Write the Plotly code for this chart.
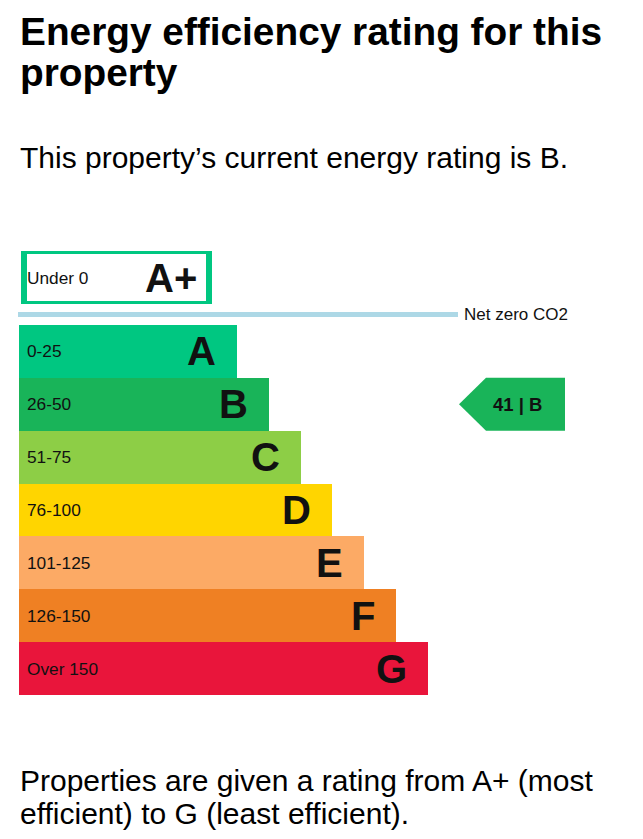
import plotly.graph_objects as go

# ---- data ----
bands = ["A", "B", "C", "D", "E", "F", "G"]
band_ranges = ["0-25", "26-50", "51-75", "76-100", "101-125", "126-150", "Over 150"]
top_band = "A+"
top_range = "Under 0"
current_score = 41
current_band = "B"
net_zero_label = "Net zero CO2"
title_lines = ["Energy efficiency rating for this", "property"]
subtitle = "This property\u2019s current energy rating is B."
footer_lines = ["Properties are given a rating from A+ (most",
                "efficient) to G (least efficient)."]

# ---- style ----
colors = ["#00c781", "#19b459", "#8dce46", "#ffd500", "#fcaa65", "#ef8023", "#e9153b"]
OFF = 8                      # default page body margin
W, H = 643 - OFF, 839 - 2 * OFF
FONT = "Liberation Sans, Arial, Helvetica, sans-serif"
PAD = 3                      # annotation inner padding
bar_left = 19
bar_lengths = [218 + 31.8 * i for i in range(len(bands))]
top_left = 24
top_length = 185
label_size = 17.3


def py(px):  # page pixel row -> paper fraction
    return 1 - (px - OFF) / H


def pxr(px):  # page pixel column -> paper fraction
    return (px - OFF) / W


def center_from_baseline(baseline, size):
    return baseline - 0.3465 * size


fig = go.Figure()

fig.add_trace(go.Bar(
    y=bands, x=bar_lengths, base=bar_left, orientation="h",
    marker=dict(color=colors, line=dict(width=0)),
    hoverinfo="skip", yaxis="y", xaxis="x",
))
fig.add_trace(go.Bar(
    y=[top_band], x=[top_length], base=top_left, orientation="h",
    marker=dict(color="white", line=dict(color="#00c781", width=6)),
    hoverinfo="skip", yaxis="y2", xaxis="x",
))

ann = []
for b, r, L in zip(bands, band_ranges, bar_lengths):
    ann.append(dict(x=28 - PAD, y=b, xref="x", yref="y", text=r, showarrow=False,
                    xanchor="left", yanchor="middle",
                    font=dict(family=FONT, size=label_size, color="#111")))
    ann.append(dict(x=bar_left + L - 22 + PAD, y=b, xref="x", yref="y", text=b, showarrow=False,
                    xanchor="right", yanchor="middle",
                    font=dict(family=FONT, size=40, color="#111", weight="bold")))
ann.append(dict(x=28 - PAD, y=top_band, xref="x", yref="y2", text=top_range, showarrow=False,
                xanchor="left", yanchor="middle",
                font=dict(family=FONT, size=label_size, color="#111")))
ann.append(dict(x=196 + PAD, y=top_band, xref="x", yref="y2", text=top_band, showarrow=False,
                xanchor="right", yanchor="middle",
                font=dict(family=FONT, size=40, color="#111", weight="bold")))

ann.append(dict(x=465 - PAD, y=py(314.5), xref="x", yref="paper", text=net_zero_label,
                showarrow=False, xanchor="left", yanchor="middle",
                font=dict(family=FONT, size=17, color="#111")))

ann.append(dict(x=517, y=current_band, xref="x", yref="y",
                text=f"{current_score} | {current_band}", showarrow=False,
                xanchor="center", yanchor="middle",
                font=dict(family=FONT, size=18.5, color="#111", weight="bold")))

title_size = 38.8
for line, base in zip(title_lines, [45, 86]):
    ann.append(dict(x=pxr(21 - PAD), y=py(center_from_baseline(base, title_size)),
                    xref="paper", yref="paper", text=line, showarrow=False,
                    xanchor="left", yanchor="middle",
                    font=dict(family=FONT, size=title_size, color="black", weight="bold")))
sub_size = 30
ann.append(dict(x=pxr(21 - PAD), y=py(center_from_baseline(168, sub_size)),
                xref="paper", yref="paper", text=subtitle, showarrow=False,
                xanchor="left", yanchor="middle",
                font=dict(family=FONT, size=sub_size, color="black")))
for line, base in zip(footer_lines, [791, 824]):
    ann.append(dict(x=pxr(21 - PAD), y=py(center_from_baseline(base, sub_size)),
                    xref="paper", yref="paper", text=line, showarrow=False,
                    xanchor="left", yanchor="middle",
                    font=dict(family=FONT, size=sub_size, color="black")))

i = bands.index(current_band)
shapes = [
    dict(type="line", xref="x", yref="paper", x0=18, x1=458, y0=py(314.5), y1=py(314.5),
         line=dict(color="#add8e6", width=5)),
    dict(type="path", xref="x", yref="y",
         path=f"M 459,{i} L 486,{i - 0.5} L 565,{i - 0.5} L 565,{i + 0.5} L 486,{i + 0.5} Z",
         fillcolor=colors[i], line=dict(width=0)),
]

fig.update_layout(
    width=W, height=H, margin=dict(l=0, r=0, t=0, b=0),
    paper_bgcolor="white", plot_bgcolor="white",
    showlegend=False, bargap=0,
    xaxis=dict(range=[OFF, OFF + W], visible=False, fixedrange=True),
    yaxis=dict(domain=[py(695), py(325)], type="category", categoryorder="array",
               categoryarray=bands, range=[len(bands) - 0.5, -0.5], visible=False, fixedrange=True),
    yaxis2=dict(domain=[py(304), py(251)], type="category", range=[0.5, -0.5],
                visible=False, fixedrange=True),
    annotations=ann, shapes=shapes,
)

fig.write_html("out.html", config={"displayModeBar": False, "staticPlot": True})
